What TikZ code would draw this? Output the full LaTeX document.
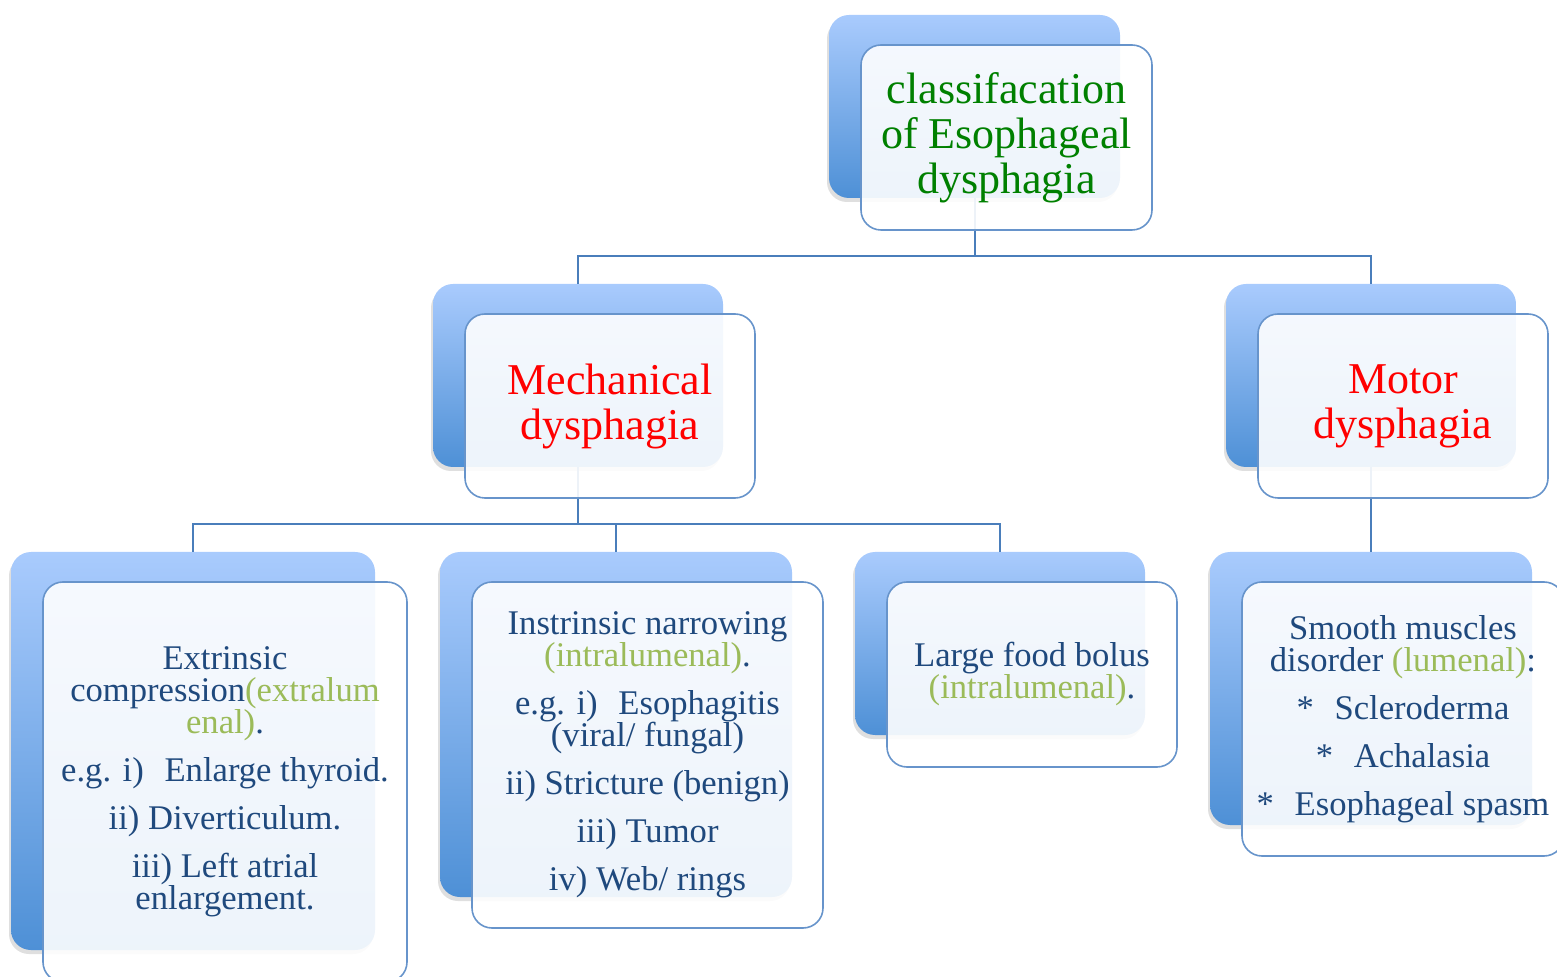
\documentclass[tikz,border=0pt]{standalone}
\usepackage{fontspec}
\setmainfont{Liberation Serif}
\usetikzlibrary{shadows}
\definecolor{bktop}{RGB}{169,203,253}
\definecolor{bkbot}{RGB}{78,144,214}
\definecolor{frborder}{RGB}{103,148,203}
\definecolor{connc}{RGB}{74,126,187}
\definecolor{navy}{HTML}{1F497D}
\definecolor{lgreen}{HTML}{9BBB59}
\definecolor{rootgreen}{RGB}{0,128,0}
\definecolor{hred}{RGB}{255,0,0}
\newcommand{\hfont}{\fontsize{22}{22.5}\selectfont}
\newcommand{\cfont}{\fontsize{17.3}{16}\selectfont}
\begin{document}
\begin{tikzpicture}[x=0.5pt,y=-0.5pt,
  backbox/.style={rounded corners=10pt, top color=bktop, bottom color=bkbot, draw=none, inner sep=0pt,
    drop shadow={shadow xshift=-1pt, shadow yshift=-2pt, opacity=0.18, fill=black!70}},
  frontbox/.style={rounded corners=10pt, draw=frborder, line width=0.8pt, fill=white, fill opacity=0.9,
    text opacity=1, align=center, inner sep=0pt},
  headtext/.style={font=\hfont},
  childtext/.style={font=\cfont, text=navy},
  conn/.style={draw=connc, line width=1pt}]
\useasboundingbox (0,0) rectangle (1557,977);
% back boxes
\node[backbox, minimum width=145.5pt, minimum height=91.5pt] (rootb) at (974.5,106.5) {};
\node[backbox, minimum width=145pt, minimum height=91.5pt] (mechb) at (578,375.5) {};
\node[backbox, minimum width=145pt, minimum height=91.5pt] (motorb) at (1371,375.5) {};
\node[backbox, minimum width=182pt, minimum height=199pt] (c1b) at (193,751) {};
\node[backbox, minimum width=176pt, minimum height=172.5pt] (c2b) at (616,724.5) {};
\node[backbox, minimum width=145pt, minimum height=91.5pt] (c3b) at (1000,643.5) {};
\node[backbox, minimum width=161pt, minimum height=136.5pt] (c4b) at (1371,688.5) {};
% connectors
\coordinate (j1) at (974.5,256);
\coordinate (j2) at (578,524);
\draw[conn] (rootb.south) -- (j1) -| (mechb.north);
\draw[conn] (j1) -| (motorb.north);
\draw[conn] (mechb.south) -- (j2) -| (c1b.north);
\draw[conn] (j2) -| (c2b.north);
\draw[conn] (j2) -| (c3b.north);
\draw[conn] (motorb.south) -- (c4b.north);
% front boxes
\node[frontbox, headtext, text=rootgreen, minimum width=145.5pt, minimum height=92.5pt] (root) at (1006.5,137.5)
  {\raisebox{0pt}{}classifacation\\of Esophageal\\dysphagia};
\node[frontbox, headtext, text=hred, minimum width=145pt, minimum height=92pt] (mech) at (610,406)
  {Mechanical\\dysphagia};
\node[frontbox, headtext, text=hred, minimum width=145pt, minimum height=92pt] (motor) at (1403,406)
  {Motor\\dysphagia};
\node[frontbox, childtext, minimum width=182pt, minimum height=200pt] (c1) at (225,782)
  {Extrinsic\\compression\textcolor{lgreen}{(extralum}\\\textcolor{lgreen}{enal)}.\\[8pt]e.g. i)\hspace{0.6em}Enlarge thyroid.\\[8pt]ii) Diverticulum.\\[8pt]iii) Left atrial\\enlargement.};
\node[frontbox, childtext, minimum width=175.5pt, minimum height=173pt] (c2) at (647.5,755)
  {Instrinsic narrowing\\\textcolor{lgreen}{(intralumenal)}.\\[8pt]e.g. i)\hspace{0.6em}Esophagitis\\(viral/ fungal)\\[8pt]ii) Stricture (benign)\\[8pt]iii) Tumor\\[8pt]iv) Web/ rings};
\node[frontbox, childtext, minimum width=145pt, minimum height=92.5pt] (c3) at (1032,674.5)
  {Large food bolus\\\textcolor{lgreen}{(intralumenal)}.};
\node[frontbox, childtext, minimum width=161pt, minimum height=137pt] (c4) at (1403,719)
  {Smooth muscles\\disorder \textcolor{lgreen}{(lumenal)}:\\[8pt]{*}\hspace{0.6em}Scleroderma\\[8pt]{*}\hspace{0.6em}Achalasia\\[8pt]{*}\hspace{0.6em}Esophageal spasm};
\end{tikzpicture}
\end{document}
